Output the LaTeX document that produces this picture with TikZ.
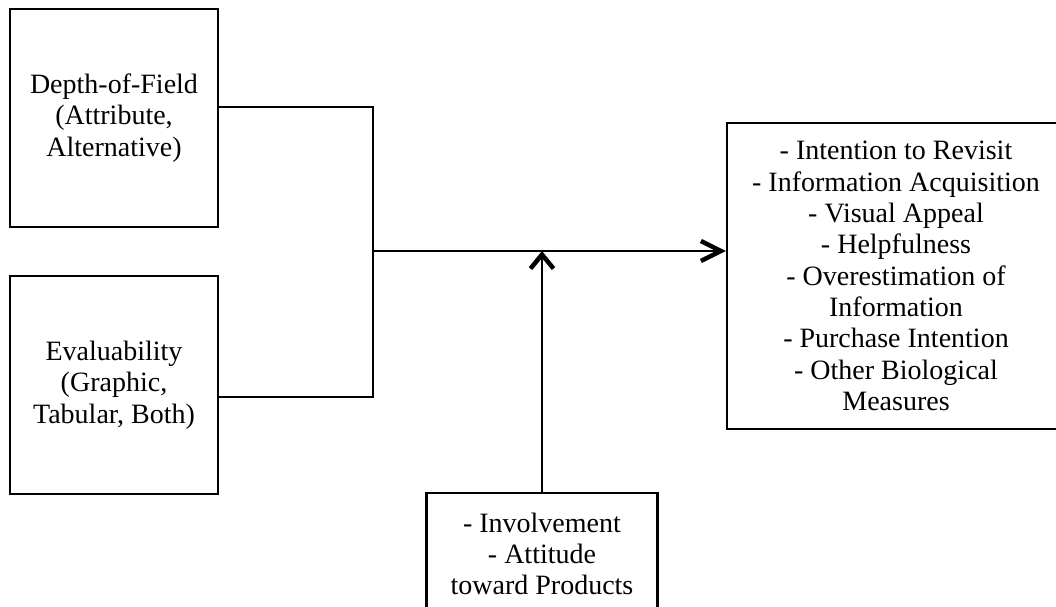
\documentclass[tikz,border=0pt]{standalone}
\usepackage{fontspec}
\setmainfont{Liberation Serif}
\usetikzlibrary{arrows.meta}
\begin{document}
\begin{tikzpicture}[x=1pt,y=-1pt,
  box/.style={draw,line width=2.2pt,align=center,inner sep=0pt,
    font=\fontsize{28}{31.3}\selectfont},
  conn/.style={line width=2.4pt},
  rarrow/.style={conn,-{Straight Barb[length=20pt,width=20pt,line width=4.5pt]}},
  uarrow/.style={conn,-{Straight Barb[length=14pt,width=23pt,line width=4.5pt]}}]
\useasboundingbox (0,0) rectangle (1056,606);
\node[box,minimum width=208pt,minimum height=218pt] (dof) at (114,118)
  {Depth-of-Field\\(Attribute,\\Alternative)};
\node[box,minimum width=208pt,minimum height=218pt] (eval) at (114,385)
  {Evaluability\\(Graphic,\\Tabular, Both)};
\node[box,minimum width=338pt,minimum height=306pt] (out) at (896,276)
  {- Intention to Revisit\\- Information Acquisition\\- Visual Appeal\\- Helpfulness\\- Overestimation of\\Information\\- Purchase Intention\\- Other Biological\\Measures};
\node[box,minimum width=231pt,minimum height=122pt] (mod) at (542,554)
  {- Involvement\\- Attitude\\toward Products};
\coordinate (j) at (373,251);
\draw[conn] ([yshift=11pt]dof.east) -| (j) |- ([yshift=-12pt]eval.east);
\draw[rarrow] (j) -- (j -| out.west);
\draw[uarrow] (mod.north) -- (mod.north |- j);
\end{tikzpicture}
\end{document}
